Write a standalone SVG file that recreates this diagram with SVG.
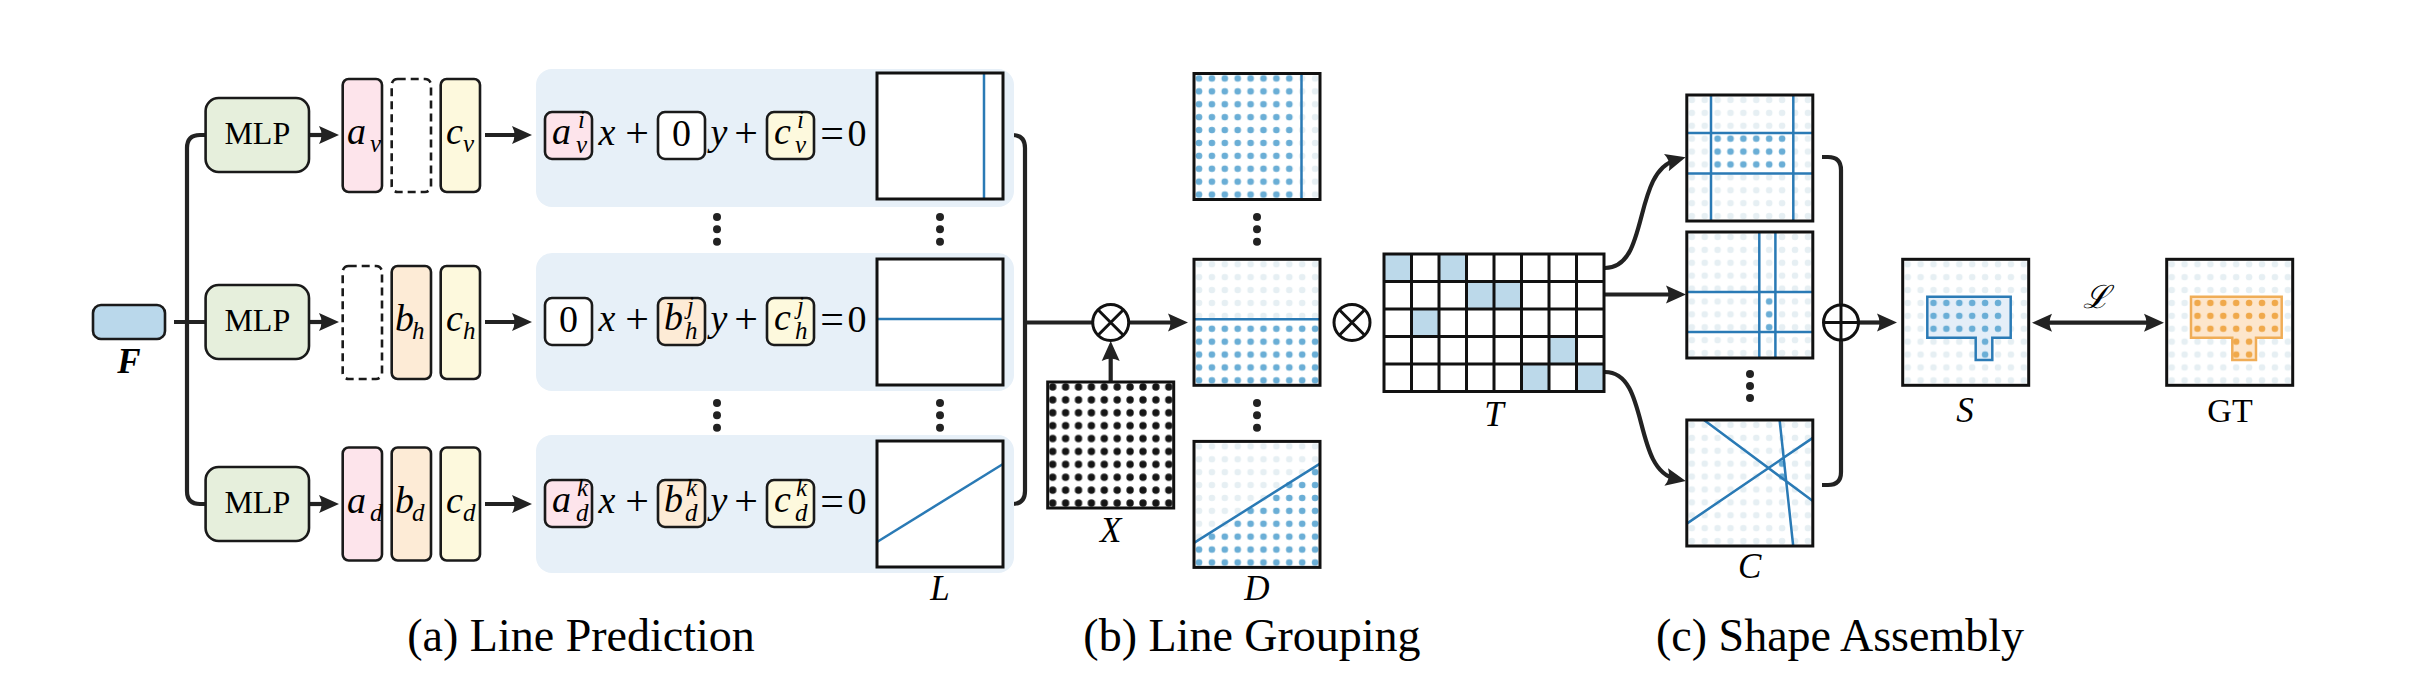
<svg xmlns="http://www.w3.org/2000/svg" width="2420" height="698" viewBox="0 0 2420 698">
<style>
text{font-family:"Liberation Serif","Times New Roman","DejaVu Serif",serif;fill:#000}
.m{font-style:italic;font-size:38px}
.mc{font-style:italic;font-size:38px;text-anchor:middle}
.s{font-style:italic;font-size:25px}
.u{font-size:38px;text-anchor:middle}
.op2{font-size:42px;text-anchor:middle}
.lbl{font-style:italic;font-size:35px;text-anchor:middle}
.cap{font-size:46px;text-anchor:middle}
.mlp{font-size:32px;text-anchor:middle}
.bx{stroke:#1a1a1a;stroke-width:2.6}
.dash{fill:#fff;stroke:#1a1a1a;stroke-width:2.6;stroke-dasharray:8 5}
.sq{fill:none;stroke:#111;stroke-width:3}
.bl{stroke:#2a7ab5;stroke-width:2.5;fill:none}
.con{fill:none;stroke:#222;stroke-width:4.2}
.arr{marker-end:url(#ah)}
.dt{fill:#222}
.op{fill:#fff;stroke:#111;stroke-width:3}
.opl{stroke:#111;stroke-width:3}
.pk{fill:#fde4eb}.po{fill:#fdebd6}.py{fill:#fdf9dd}.pw{fill:#fff}
.panel{fill:#e7f0f8}
</style>
<defs>
<marker id="ah" markerUnits="userSpaceOnUse" markerWidth="22" markerHeight="20" viewBox="0 -10 22 20" refX="10" refY="0" orient="auto-start-reverse"><path d="M20,0 L0,-9 Q5,0 0,9 Z" fill="#222"/></marker>
<pattern id="pl" width="12.9" height="12.9" patternUnits="userSpaceOnUse"><circle cx="5" cy="5" r="3.3" fill="#e6eff3"/></pattern>
<pattern id="pb" width="12.9" height="12.9" patternUnits="userSpaceOnUse"><circle cx="5" cy="5" r="3.3" fill="#6aaed6"/></pattern>
<pattern id="por" width="12.9" height="12.9" patternUnits="userSpaceOnUse"><circle cx="5" cy="5" r="3.3" fill="#f0a94b"/></pattern>
<pattern id="pbk" width="12.9" height="12.9" patternUnits="userSpaceOnUse"><circle cx="5" cy="5" r="3.7" fill="#161616"/></pattern>
</defs>

<g id="connectors">
<path class="con" d="M174,322 H205.6 M205.6,135 H200 Q187,135 187,148 V491 Q187,504 200,504 H205.6"/>
<path class="con arr" d="M309,135 H329"/>
<path class="con arr" d="M309,322 H329"/>
<path class="con arr" d="M309,504 H329"/>
<path class="con arr" d="M485,135 H522"/>
<path class="con arr" d="M485,322 H522"/>
<path class="con arr" d="M485,504 H522"/>
<path class="con" d="M1008,135 H1012 Q1025,135 1025,148 V491 Q1025,504 1012,504 H1008 M1025,322.5 H1093"/>
<path class="con arr" d="M1129,322.5 H1178"/>
<path class="con arr" d="M1110.7,382 V351"/>
<path class="con arr" d="M1605,268 C1650,268 1632,172 1676,160"/>
<path class="con arr" d="M1605,294.5 H1676"/>
<path class="con arr" d="M1605,372 C1650,372 1632,470 1676,479"/>
<path class="con" d="M1822,157 H1828 Q1841,157 1841,170 V472 Q1841,485 1828,485 H1822"/>
<path class="con arr" d="M1858.5,322.5 H1887"/>
<path class="con arr" d="M2042,322.7 H2154" marker-start="url(#ah)"/>
</g>

<g id="F"><rect x="93" y="305" width="72" height="34" rx="8" fill="#bad8eb" class="bx"/><text class="lbl" x="129" y="373" font-weight="bold">F</text></g>

<g id="mlp1"><rect x="205.6" y="98" width="103.4" height="74" rx="13" fill="#e6efdc" class="bx"/><text class="mlp" x="257.3" y="144">MLP</text></g>
<g id="mlp2"><rect x="205.6" y="285" width="103.4" height="74" rx="13" fill="#e6efdc" class="bx"/><text class="mlp" x="257.3" y="331">MLP</text></g>
<g id="mlp3"><rect x="205.6" y="467" width="103.4" height="74" rx="13" fill="#e6efdc" class="bx"/><text class="mlp" x="257.3" y="513">MLP</text></g>

<g id="vec1">
<rect x="342.7" y="79" width="39.3" height="113" rx="6" class="bx pk"/>
<rect x="391.7" y="79" width="39.3" height="113" rx="6" class="dash"/>
<rect x="440.7" y="79" width="39.3" height="113" rx="6" class="bx py"/>
<text class="m" x="347" y="144">a</text><text class="s" x="370" y="152">v</text>
<text class="m" x="446" y="144">c</text><text class="s" x="463" y="152">v</text>
</g>
<g id="vec2">
<rect x="342.7" y="266" width="39.3" height="113" rx="6" class="dash"/>
<rect x="391.7" y="266" width="39.3" height="113" rx="6" class="bx po"/>
<rect x="440.7" y="266" width="39.3" height="113" rx="6" class="bx py"/>
<text class="m" x="395" y="331">b</text><text class="s" x="412" y="339">h</text>
<text class="m" x="446" y="331">c</text><text class="s" x="463" y="339">h</text>
</g>
<g id="vec3">
<rect x="342.7" y="447.5" width="39.3" height="113" rx="6" class="bx pk"/>
<rect x="391.7" y="447.5" width="39.3" height="113" rx="6" class="bx po"/>
<rect x="440.7" y="447.5" width="39.3" height="113" rx="6" class="bx py"/>
<text class="m" x="347" y="513">a</text><text class="s" x="370" y="521">d</text>
<text class="m" x="395" y="513">b</text><text class="s" x="412" y="521">d</text>
<text class="m" x="446" y="513">c</text><text class="s" x="463" y="521">d</text>
</g>

<g id="eq1">
<rect x="536" y="69" width="478" height="138" rx="16" class="panel"/>
<rect x="545" y="112" width="47" height="47" rx="7" class="bx pk"/>
<text class="m" x="552" y="144">a</text><text class="s" x="578" y="128">i</text><text class="s" x="576" y="153">v</text>
<text class="mc" x="607" y="145">x</text><text class="op2" x="637" y="147">+</text>
<rect x="658" y="112" width="47" height="47" rx="7" class="bx pw"/><text class="u" x="681.5" y="146">0</text>
<text class="mc" x="719" y="145">y</text><text class="op2" x="746" y="147">+</text>
<rect x="767" y="112" width="47" height="47" rx="7" class="bx py"/>
<text class="m" x="774" y="144">c</text><text class="s" x="797" y="128">i</text><text class="s" x="795" y="153">v</text>
<text class="op2" x="832" y="147">=</text><text class="u" x="857" y="146">0</text>
</g>
<g id="L1"><rect x="877" y="73" width="126" height="126" fill="#fff"/><path class="bl" d="M984,73 V199"/><rect x="877" y="73" width="126" height="126" class="sq"/></g>

<g id="eq2">
<rect x="536" y="253" width="478" height="138" rx="16" class="panel"/>
<rect x="545" y="298" width="47" height="47" rx="7" class="bx pw"/><text class="u" x="568.5" y="332">0</text>
<text class="mc" x="607" y="331">x</text><text class="op2" x="637" y="333">+</text>
<rect x="658" y="298" width="47" height="47" rx="7" class="bx po"/>
<text class="m" x="664" y="330">b</text><text class="s" x="687" y="314">j</text><text class="s" x="685" y="339">h</text>
<text class="mc" x="719" y="331">y</text><text class="op2" x="746" y="333">+</text>
<rect x="767" y="298" width="47" height="47" rx="7" class="bx py"/>
<text class="m" x="774" y="330">c</text><text class="s" x="797" y="314">j</text><text class="s" x="795" y="339">h</text>
<text class="op2" x="832" y="333">=</text><text class="u" x="857" y="332">0</text>
</g>
<g id="L2"><rect x="877" y="259" width="126" height="126" fill="#fff"/><path class="bl" d="M877,319 H1003"/><rect x="877" y="259" width="126" height="126" class="sq"/></g>

<g id="eq3">
<rect x="536" y="435" width="478" height="138" rx="16" class="panel"/>
<rect x="545" y="480" width="47" height="47" rx="7" class="bx pk"/>
<text class="m" x="552" y="512">a</text><text class="s" x="577" y="496">k</text><text class="s" x="576" y="521">d</text>
<text class="mc" x="607" y="513">x</text><text class="op2" x="637" y="515">+</text>
<rect x="658" y="480" width="47" height="47" rx="7" class="bx po"/>
<text class="m" x="664" y="512">b</text><text class="s" x="686" y="496">k</text><text class="s" x="685" y="521">d</text>
<text class="mc" x="719" y="513">y</text><text class="op2" x="746" y="515">+</text>
<rect x="767" y="480" width="47" height="47" rx="7" class="bx py"/>
<text class="m" x="774" y="512">c</text><text class="s" x="796" y="496">k</text><text class="s" x="795" y="521">d</text>
<text class="op2" x="832" y="515">=</text><text class="u" x="857" y="514">0</text>
</g>
<g id="L3"><rect x="877" y="441" width="126" height="126" fill="#fff"/><path class="bl" d="M877,542 L1003,464"/><rect x="877" y="441" width="126" height="126" class="sq"/><text class="lbl" x="940" y="600">L</text></g>

<g id="ellipses">
<circle class="dt" cx="717" cy="217" r="4"/><circle class="dt" cx="717" cy="229.3" r="4"/><circle class="dt" cx="717" cy="241.7" r="4"/>
<circle class="dt" cx="940" cy="217" r="4"/><circle class="dt" cx="940" cy="229.3" r="4"/><circle class="dt" cx="940" cy="241.7" r="4"/>
<circle class="dt" cx="717" cy="403" r="4"/><circle class="dt" cx="717" cy="415.3" r="4"/><circle class="dt" cx="717" cy="427.7" r="4"/>
<circle class="dt" cx="940" cy="403" r="4"/><circle class="dt" cx="940" cy="415.3" r="4"/><circle class="dt" cx="940" cy="427.7" r="4"/>
<circle class="dt" cx="1257" cy="217" r="4"/><circle class="dt" cx="1257" cy="229.3" r="4"/><circle class="dt" cx="1257" cy="241.7" r="4"/>
<circle class="dt" cx="1257" cy="403" r="4"/><circle class="dt" cx="1257" cy="415.3" r="4"/><circle class="dt" cx="1257" cy="427.7" r="4"/>
<circle class="dt" cx="1750" cy="374" r="4"/><circle class="dt" cx="1750" cy="386" r="4"/><circle class="dt" cx="1750" cy="398" r="4"/>
</g>

<g id="otimes1"><circle cx="1110.7" cy="322.5" r="18" class="op"/><path class="opl" d="M1098,309.8 L1123.4,335.2 M1098,335.2 L1123.4,309.8"/></g>

<g id="X" transform="translate(1047.7,382)"><rect width="126" height="126" fill="#fff"/><rect width="126" height="126" fill="url(#pbk)"/><rect width="126" height="126" class="sq"/><text class="lbl" x="63" y="160">X</text></g>

<g id="D1" transform="translate(1194,73.5)"><rect width="126" height="126" fill="#fff"/><rect width="126" height="126" fill="url(#pl)"/><rect width="102" height="126" fill="url(#pb)"/><path class="bl" d="M107.5,0 V126"/><rect width="126" height="126" class="sq"/></g>
<g id="D2" transform="translate(1194,259.3)"><rect width="126" height="126" fill="#fff"/><rect width="126" height="126" fill="url(#pl)"/><rect y="62" width="126" height="64" fill="url(#pb)"/><path class="bl" d="M0,60 H126"/><rect width="126" height="126" class="sq"/></g>
<g id="D3" transform="translate(1194,441.4)"><rect width="126" height="126" fill="#fff"/><rect width="126" height="126" fill="url(#pl)"/><path fill="url(#pb)" d="M0,126 V103.2 H12.9 V90.3 H38.7 V77.4 H51.6 V64.5 H77.4 V51.6 H90.3 V38.7 H116.1 V25.8 H126 V126 Z"/><path class="bl" d="M0,101.5 L126,22.2"/><rect width="126" height="126" class="sq"/><text class="lbl" x="63" y="158.6">D</text></g>

<g id="otimes2"><circle cx="1352" cy="322.5" r="18" class="op"/><path class="opl" d="M1339.3,309.8 L1364.7,335.2 M1339.3,335.2 L1364.7,309.8"/></g>

<g id="T">
<rect x="1384" y="254" width="220" height="137.5" fill="#fff"/>
<g fill="#bcd9ea"><rect x="1384" y="254" width="27.5" height="27.5"/><rect x="1439" y="254" width="27.5" height="27.5"/><rect x="1466.5" y="281.5" width="27.5" height="27.5"/><rect x="1494" y="281.5" width="27.5" height="27.5"/><rect x="1411.5" y="309" width="27.5" height="27.5"/><rect x="1549" y="336.5" width="27.5" height="27.5"/><rect x="1521.5" y="364" width="27.5" height="27.5"/><rect x="1576.5" y="364" width="27.5" height="27.5"/></g>
<path fill="none" stroke="#111" stroke-width="3" d="M1411.5,254 V391.5 M1439,254 V391.5 M1466.5,254 V391.5 M1494,254 V391.5 M1521.5,254 V391.5 M1549,254 V391.5 M1576.5,254 V391.5 M1384,281.5 H1604 M1384,309 H1604 M1384,336.5 H1604 M1384,364 H1604"/>
<rect x="1384" y="254" width="220" height="137.5" class="sq"/>
<text class="lbl" x="1494" y="426">T</text>
</g>

<g id="C1" transform="translate(1686.8,95)"><rect width="126" height="126" fill="#fff"/><rect width="126" height="126" fill="url(#pl)"/><rect x="25.8" y="38.7" width="77.4" height="38.7" fill="url(#pb)"/><path class="bl" d="M24.2,0 V126 M106.5,0 V126 M0,38 H126 M0,78.6 H126"/><rect width="126" height="126" class="sq"/></g>
<g id="C2" transform="translate(1686.8,232)"><rect width="126" height="126" fill="#fff"/><rect width="126" height="126" fill="url(#pl)"/><rect x="77.4" y="64.5" width="12.9" height="38.7" fill="url(#pb)"/><path class="bl" d="M72.5,0 V126 M88.6,0 V126 M0,60 H126 M0,100 H126"/><rect width="126" height="126" class="sq"/></g>
<g id="C3" transform="translate(1686.8,420)"><rect width="126" height="126" fill="#fff"/><rect width="126" height="126" fill="url(#pl)"/><rect x="90.3" y="38.7" width="12.9" height="25.8" fill="url(#pb)"/><path class="bl" d="M17.2,0 L126,81 M0,103.6 L126,17.9 M92.8,0 L106.4,126"/><rect width="126" height="126" class="sq"/><text class="lbl" x="63" y="158">C</text></g>

<g id="oplus"><circle cx="1841" cy="322.5" r="17.5" class="op"/><path class="opl" d="M1823.5,322.5 H1858.5 M1841,305 V340"/></g>

<g id="S" transform="translate(1902.7,259.3)"><rect width="126" height="126" fill="#fff"/><rect width="126" height="126" fill="url(#pl)"/><path d="M24.6,37.4 H108 V78.4 H89.6 V100.7 H73 V78.4 H24.6 Z" fill="#e4eef8" stroke="#2b7bb6" stroke-width="2.5"/><rect x="25.8" y="38.7" width="77.4" height="38.7" fill="url(#pb)"/><rect x="77.4" y="77.4" width="12.9" height="25.8" fill="url(#pb)"/><rect width="126" height="126" class="sq"/><text class="lbl" x="62.3" y="162.4">S</text></g>

<g id="loss"><text x="2096" y="308" font-family="'DejaVu Serif','DejaVu Sans',serif" font-style="italic" font-size="32" text-anchor="middle">ℒ</text></g>

<g id="GT" transform="translate(2166.7,259.3)"><rect width="126" height="126" fill="#fff"/><rect width="126" height="126" fill="url(#pl)"/><path d="M24.3,37.4 H115 V78.4 H89.3 V100.7 H65.6 V78.4 H24.3 Z" fill="#fde6cc" stroke="#f0ad57" stroke-width="2.5"/><rect x="25.8" y="38.7" width="90.3" height="38.7" fill="url(#por)"/><rect x="64.5" y="77.4" width="25.8" height="25.8" fill="url(#por)"/><rect width="126" height="126" class="sq"/><text x="63.3" y="162.4" font-size="34" text-anchor="middle">GT</text></g>

<g id="captions">
<text class="cap" x="581" y="651">(a) Line Prediction</text>
<text class="cap" x="1252" y="651">(b) Line Grouping</text>
<text class="cap" x="1840" y="651">(c) Shape Assembly</text>
</g>
</svg>
